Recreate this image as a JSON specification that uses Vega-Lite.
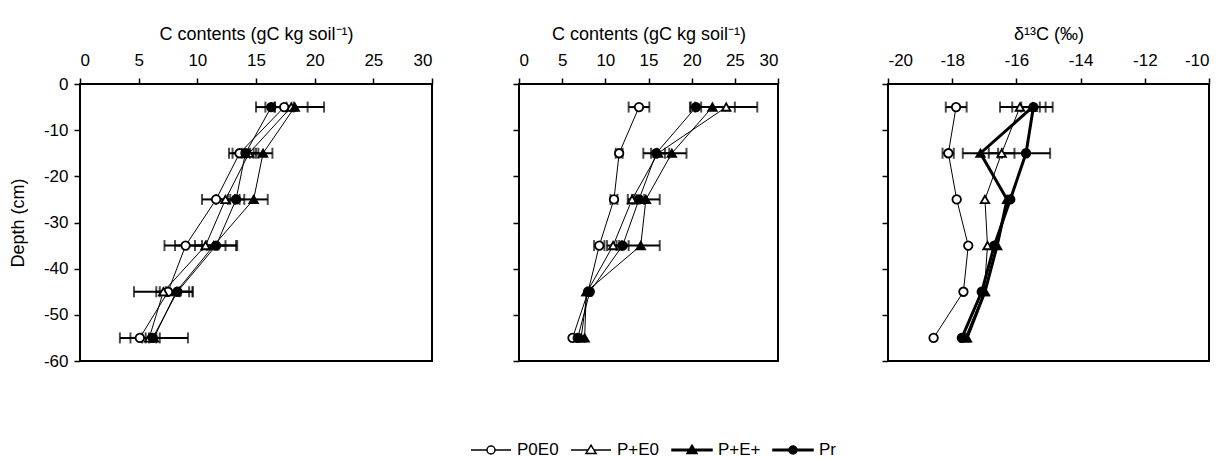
{
  "$schema": "https://vega.github.io/schema/vega-lite/v6.json",
  "padding": {"left": 8, "top": 24, "right": 5, "bottom": 5},
  "spacing": 10,
  "config": {
    "font": "Liberation Sans",
    "view": {"stroke": "black", "strokeWidth": 2},
    "axis": {"domain": false, "grid": false, "tickColor": "black", "tickSize": 6, "tickWidth": 1.5, "labelColor": "black", "titleColor": "black", "labelFontSize": 17, "titleFontSize": 18, "titleFontWeight": "normal", "labelFont": "Liberation Sans", "titleFont": "Liberation Sans"}
  },
  "datasets": {
    "d": [
      {"p": "a", "s": "P0E0", "depth": -5, "v": 17.4, "lo": 16.6, "hi": 18.2},
      {"p": "a", "s": "P+E0", "depth": -5, "v": 18.0, "lo": 16.6, "hi": 19.4},
      {"p": "a", "s": "P+E+", "depth": -5, "v": 18.3, "lo": 15.8, "hi": 20.8},
      {"p": "a", "s": "Pr", "depth": -5, "v": 16.3, "lo": 15.0, "hi": 17.6},
      {"p": "a", "s": "P0E0", "depth": -15, "v": 13.6, "lo": 12.7, "hi": 14.5},
      {"p": "a", "s": "P+E0", "depth": -15, "v": 14.4, "lo": 13.8, "hi": 15.0},
      {"p": "a", "s": "P+E+", "depth": -15, "v": 15.6, "lo": 14.8, "hi": 16.4},
      {"p": "a", "s": "Pr", "depth": -15, "v": 14.1, "lo": 13.0, "hi": 15.2},
      {"p": "a", "s": "P0E0", "depth": -25, "v": 11.6, "lo": 10.4, "hi": 12.8},
      {"p": "a", "s": "P+E0", "depth": -25, "v": 12.4, "lo": 11.6, "hi": 13.2},
      {"p": "a", "s": "P+E+", "depth": -25, "v": 14.8, "lo": 13.6, "hi": 16.0},
      {"p": "a", "s": "Pr", "depth": -25, "v": 13.3, "lo": 12.6, "hi": 14.0},
      {"p": "a", "s": "P0E0", "depth": -35, "v": 9.0, "lo": 7.2, "hi": 10.8},
      {"p": "a", "s": "P+E0", "depth": -35, "v": 10.7, "lo": 8.1, "hi": 13.3},
      {"p": "a", "s": "P+E+", "depth": -35, "v": 11.4, "lo": 10.4, "hi": 12.4},
      {"p": "a", "s": "Pr", "depth": -35, "v": 11.6, "lo": 9.8, "hi": 13.4},
      {"p": "a", "s": "P0E0", "depth": -45, "v": 7.5, "lo": 6.5, "hi": 8.5},
      {"p": "a", "s": "P+E0", "depth": -45, "v": 7.1, "lo": 4.6, "hi": 9.6},
      {"p": "a", "s": "P+E+", "depth": -45, "v": 8.2, "lo": 6.8, "hi": 9.6},
      {"p": "a", "s": "Pr", "depth": -45, "v": 8.3, "lo": 7.3, "hi": 9.3},
      {"p": "a", "s": "P0E0", "depth": -55, "v": 5.1, "lo": 4.3, "hi": 5.9},
      {"p": "a", "s": "P+E0", "depth": -55, "v": 5.9, "lo": 5.3, "hi": 6.5},
      {"p": "a", "s": "P+E+", "depth": -55, "v": 6.3, "lo": 3.4, "hi": 9.2},
      {"p": "a", "s": "Pr", "depth": -55, "v": 6.2, "lo": 5.6, "hi": 6.8},

      {"p": "b", "s": "P0E0", "depth": -5, "v": 13.9, "lo": 12.7, "hi": 15.1},
      {"p": "b", "s": "P+E0", "depth": -5, "v": 24.0, "lo": 20.4, "hi": 27.6},
      {"p": "b", "s": "P+E+", "depth": -5, "v": 22.4, "lo": 19.8, "hi": 25.0},
      {"p": "b", "s": "Pr", "depth": -5, "v": 20.5, "lo": 19.9, "hi": 21.1},
      {"p": "b", "s": "P0E0", "depth": -15, "v": 11.6, "lo": 11.2, "hi": 12.0},
      {"p": "b", "s": "P+E0", "depth": -15, "v": 16.1, "lo": 15.3, "hi": 16.9},
      {"p": "b", "s": "P+E+", "depth": -15, "v": 17.7, "lo": 16.0, "hi": 19.4},
      {"p": "b", "s": "Pr", "depth": -15, "v": 15.9, "lo": 14.4, "hi": 17.4},
      {"p": "b", "s": "P0E0", "depth": -25, "v": 11.0, "lo": 10.6, "hi": 11.4},
      {"p": "b", "s": "P+E0", "depth": -25, "v": 13.1, "lo": 12.6, "hi": 13.6},
      {"p": "b", "s": "P+E+", "depth": -25, "v": 14.7, "lo": 13.1, "hi": 16.3},
      {"p": "b", "s": "Pr", "depth": -25, "v": 13.9, "lo": 13.3, "hi": 14.5},
      {"p": "b", "s": "P0E0", "depth": -35, "v": 9.3, "lo": 8.7, "hi": 9.9},
      {"p": "b", "s": "P+E0", "depth": -35, "v": 10.9, "lo": 10.2, "hi": 11.6},
      {"p": "b", "s": "P+E+", "depth": -35, "v": 14.1, "lo": 11.9, "hi": 16.3},
      {"p": "b", "s": "Pr", "depth": -35, "v": 12.0, "lo": 11.3, "hi": 12.7},
      {"p": "b", "s": "P0E0", "depth": -45, "v": 8.0, "lo": null, "hi": null},
      {"p": "b", "s": "P+E0", "depth": -45, "v": 7.9, "lo": null, "hi": null},
      {"p": "b", "s": "P+E+", "depth": -45, "v": 7.8, "lo": null, "hi": null},
      {"p": "b", "s": "Pr", "depth": -45, "v": 8.2, "lo": null, "hi": null},
      {"p": "b", "s": "P0E0", "depth": -55, "v": 6.2, "lo": null, "hi": null},
      {"p": "b", "s": "P+E0", "depth": -55, "v": 7.2, "lo": null, "hi": null},
      {"p": "b", "s": "P+E+", "depth": -55, "v": 7.6, "lo": null, "hi": null},
      {"p": "b", "s": "Pr", "depth": -55, "v": 6.8, "lo": null, "hi": null},

      {"p": "c", "s": "P0E0", "depth": -5, "v": -17.88, "lo": -18.2, "hi": -17.55},
      {"p": "c", "s": "P+E0", "depth": -5, "v": -15.89, "lo": -16.51, "hi": -15.27},
      {"p": "c", "s": "P+E+", "depth": -5, "v": -15.5, "lo": -16.13, "hi": -14.87},
      {"p": "c", "s": "Pr", "depth": -5, "v": -15.47, "lo": -15.85, "hi": -15.09},
      {"p": "c", "s": "P0E0", "depth": -15, "v": -18.12, "lo": -18.3, "hi": -17.95},
      {"p": "c", "s": "P+E0", "depth": -15, "v": -16.46, "lo": -16.86, "hi": -16.06},
      {"p": "c", "s": "P+E+", "depth": -15, "v": -17.12, "lo": -17.67, "hi": -16.57},
      {"p": "c", "s": "Pr", "depth": -15, "v": -15.7, "lo": -16.45, "hi": -14.95},
      {"p": "c", "s": "P0E0", "depth": -25, "v": -17.86, "lo": null, "hi": null},
      {"p": "c", "s": "P+E0", "depth": -25, "v": -16.98, "lo": null, "hi": null},
      {"p": "c", "s": "P+E+", "depth": -25, "v": -16.29, "lo": null, "hi": null},
      {"p": "c", "s": "Pr", "depth": -25, "v": -16.19, "lo": null, "hi": null},
      {"p": "c", "s": "P0E0", "depth": -35, "v": -17.5, "lo": null, "hi": null},
      {"p": "c", "s": "P+E0", "depth": -35, "v": -16.9, "lo": null, "hi": null},
      {"p": "c", "s": "P+E+", "depth": -35, "v": -16.6, "lo": null, "hi": null},
      {"p": "c", "s": "Pr", "depth": -35, "v": -16.69, "lo": null, "hi": null},
      {"p": "c", "s": "P0E0", "depth": -45, "v": -17.65, "lo": null, "hi": null},
      {"p": "c", "s": "P+E0", "depth": -45, "v": -17.0, "lo": null, "hi": null},
      {"p": "c", "s": "P+E+", "depth": -45, "v": -16.98, "lo": null, "hi": null},
      {"p": "c", "s": "Pr", "depth": -45, "v": -17.08, "lo": null, "hi": null},
      {"p": "c", "s": "P0E0", "depth": -55, "v": -18.58, "lo": null, "hi": null},
      {"p": "c", "s": "P+E0", "depth": -55, "v": -17.6, "lo": null, "hi": null},
      {"p": "c", "s": "P+E+", "depth": -55, "v": -17.54, "lo": null, "hi": null},
      {"p": "c", "s": "Pr", "depth": -55, "v": -17.7, "lo": null, "hi": null}
    ]
  },
  "hconcat": [
    {
      "width": 352, "height": 277,
      "data": {"name": "d"},
      "transform": [{"filter": "datum.p == 'a'"}],
      "encoding": {
        "y": {"field": "depth", "type": "quantitative", "scale": {"domain": [-60, 0], "nice": false}, "axis": {"title": "Depth (cm)", "values": [0, -10, -20, -30, -40, -50, -60], "labelExpr": "datum.value + ''", "labelPadding": 6, "titlePadding": 16}}
      },
      "layer": [
        {
          "mark": {"type": "line", "color": "black", "strokeWidth": 1},
          "encoding": {
            "x": {"field": "v", "type": "quantitative", "scale": {"domain": [0, 30], "nice": false}, "axis": {"orient": "top", "title": "C contents (gC kg soil⁻¹)", "values": [0, 5, 10, 15, 20, 25, 30], "labelPadding": 9, "titlePadding": 8}},
            "detail": {"field": "s"},
            "order": {"field": "depth", "sort": "descending"}
          }
        },
        {
          "mark": {"type": "rule", "color": "black", "strokeWidth": 2},
          "encoding": {
            "x": {"field": "lo", "type": "quantitative", "scale": {"domain": [0, 30], "nice": false}, "axis": {"orient": "top", "title": "C contents (gC kg soil⁻¹)", "values": [0, 5, 10, 15, 20, 25, 30], "labelPadding": 9, "titlePadding": 8}},
            "x2": {"field": "hi"}
          }
        },
        {
          "mark": {"type": "tick", "orient": "vertical", "color": "black", "size": 11, "thickness": 2},
          "encoding": {
            "x": {"field": "lo", "type": "quantitative", "scale": {"domain": [0, 30], "nice": false}, "axis": {"orient": "top", "title": "C contents (gC kg soil⁻¹)", "values": [0, 5, 10, 15, 20, 25, 30], "labelPadding": 9, "titlePadding": 8}}
          }
        },
        {
          "mark": {"type": "tick", "orient": "vertical", "color": "black", "size": 11, "thickness": 2},
          "encoding": {
            "x": {"field": "hi", "type": "quantitative", "scale": {"domain": [0, 30], "nice": false}, "axis": {"orient": "top", "title": "C contents (gC kg soil⁻¹)", "values": [0, 5, 10, 15, 20, 25, 30], "labelPadding": 9, "titlePadding": 8}}
          }
        },
        {
          "mark": {"type": "point", "filled": true, "stroke": "black", "strokeWidth": 1.8, "size": 72, "opacity": 1},
          "encoding": {
            "x": {"field": "v", "type": "quantitative", "scale": {"domain": [0, 30], "nice": false}, "axis": {"orient": "top", "title": "C contents (gC kg soil⁻¹)", "values": [0, 5, 10, 15, 20, 25, 30], "labelPadding": 9, "titlePadding": 8}},
            "shape": {"condition": {"test": "datum.s == 'P0E0' || datum.s == 'Pr'", "value": "circle"}, "value": "triangle-up"},
            "fill": {"condition": {"test": "datum.s == 'P+E+' || datum.s == 'Pr'", "value": "black"}, "value": "white"}
          }
        },
        {
          "data": {"values": [{"label": "a"}]},
          "mark": {"type": "text", "fontWeight": "bold", "fontSize": 21, "color": "black", "baseline": "middle", "align": "center"},
          "encoding": {
            "x": {"datum": 27.4, "type": "quantitative", "scale": {"domain": [0, 30], "nice": false}, "axis": {"orient": "top", "title": "C contents (gC kg soil⁻¹)", "values": [0, 5, 10, 15, 20, 25, 30], "labelPadding": 9, "titlePadding": 8}},
            "y": {"datum": -54, "type": "quantitative", "scale": {"domain": [-60, 0], "nice": false}, "axis": {"title": "Depth (cm)", "values": [0, -10, -20, -30, -40, -50, -60], "labelExpr": "datum.value + ''", "labelPadding": 6, "titlePadding": 16}},
            "text": {"field": "label"}
          }
        }
      ]
    },
    {
      "width": 259, "height": 277,
      "data": {"name": "d"},
      "transform": [{"filter": "datum.p == 'b'"}],
      "encoding": {
        "y": {"field": "depth", "type": "quantitative", "scale": {"domain": [-60, 0], "nice": false}, "axis": {"title": null, "labels": false, "values": [0, -10, -20, -30, -40, -50, -60], "minExtent": 74, "maxExtent": 74}}
      },
      "layer": [
        {
          "mark": {"type": "line", "color": "black", "strokeWidth": 1},
          "encoding": {
            "x": {"field": "v", "type": "quantitative", "scale": {"domain": [0, 30], "nice": false}, "axis": {"orient": "top", "title": "C contents (gC kg soil⁻¹)", "values": [0, 5, 10, 15, 20, 25, 30], "labelPadding": 9, "titlePadding": 8}},
            "detail": {"field": "s"},
            "order": {"field": "depth", "sort": "descending"}
          }
        },
        {
          "mark": {"type": "rule", "color": "black", "strokeWidth": 2},
          "encoding": {
            "x": {"field": "lo", "type": "quantitative", "scale": {"domain": [0, 30], "nice": false}, "axis": {"orient": "top", "title": "C contents (gC kg soil⁻¹)", "values": [0, 5, 10, 15, 20, 25, 30], "labelPadding": 9, "titlePadding": 8}},
            "x2": {"field": "hi"}
          }
        },
        {
          "mark": {"type": "tick", "orient": "vertical", "color": "black", "size": 11, "thickness": 2},
          "encoding": {
            "x": {"field": "lo", "type": "quantitative", "scale": {"domain": [0, 30], "nice": false}, "axis": {"orient": "top", "title": "C contents (gC kg soil⁻¹)", "values": [0, 5, 10, 15, 20, 25, 30], "labelPadding": 9, "titlePadding": 8}}
          }
        },
        {
          "mark": {"type": "tick", "orient": "vertical", "color": "black", "size": 11, "thickness": 2},
          "encoding": {
            "x": {"field": "hi", "type": "quantitative", "scale": {"domain": [0, 30], "nice": false}, "axis": {"orient": "top", "title": "C contents (gC kg soil⁻¹)", "values": [0, 5, 10, 15, 20, 25, 30], "labelPadding": 9, "titlePadding": 8}}
          }
        },
        {
          "mark": {"type": "point", "filled": true, "stroke": "black", "strokeWidth": 1.8, "size": 72, "opacity": 1},
          "encoding": {
            "x": {"field": "v", "type": "quantitative", "scale": {"domain": [0, 30], "nice": false}, "axis": {"orient": "top", "title": "C contents (gC kg soil⁻¹)", "values": [0, 5, 10, 15, 20, 25, 30], "labelPadding": 9, "titlePadding": 8}},
            "shape": {"condition": {"test": "datum.s == 'P0E0' || datum.s == 'Pr'", "value": "circle"}, "value": "triangle-up"},
            "fill": {"condition": {"test": "datum.s == 'P+E+' || datum.s == 'Pr'", "value": "black"}, "value": "white"}
          }
        },
        {
          "mark": {"type": "point", "filled": true, "stroke": "black", "strokeWidth": 1.5, "size": 1600, "opacity": 0},
          "encoding": {
            "x": {"field": "v", "type": "quantitative", "scale": {"domain": [0, 30], "nice": false}, "axis": {"orient": "top", "title": "C contents (gC kg soil⁻¹)", "values": [0, 5, 10, 15, 20, 25, 30], "labelPadding": 9, "titlePadding": 8}},
            "shape": {"field": "s", "type": "nominal", "scale": {"domain": ["P0E0", "P+E0", "P+E+", "Pr"], "range": [
              "M-1,0H-0.2M0.2,0H1M0.2,0A0.2,0.2,0,1,1,-0.2,0A0.2,0.2,0,1,1,0.2,0Z",
              "M-1,0H-0.146M0.146,0H1M0,-0.24L0.25,0.17L-0.25,0.17Z",
              "M-1,-0.035H1V0.035H-1ZM0,-0.24L0.25,0.17L-0.25,0.17Z",
              "M-1,-0.035H1V0.035H-1ZM0.2,0A0.2,0.2,0,1,1,-0.2,0A0.2,0.2,0,1,1,0.2,0Z"
            ]}, "legend": {"title": null, "orient": "none", "legendX": 390, "legendY": 345, "direction": "horizontal", "symbolSize": 1600, "symbolStrokeWidth": 1.5, "symbolOpacity": 1, "labelFontSize": 17, "labelColor": "black", "labelOffset": 5, "columnPadding": 9, "padding": 0}},
            "fill": {"field": "s", "type": "nominal", "scale": {"domain": ["P0E0", "P+E0", "P+E+", "Pr"], "range": ["white", "white", "black", "black"]}, "legend": {"title": null, "orient": "none", "legendX": 390, "legendY": 345, "direction": "horizontal", "symbolSize": 1600, "symbolStrokeWidth": 1.5, "symbolOpacity": 1, "labelFontSize": 17, "labelColor": "black", "labelOffset": 5, "columnPadding": 9, "padding": 0}},
            "stroke": {"field": "s", "type": "nominal", "scale": {"domain": ["P0E0", "P+E0", "P+E+", "Pr"], "range": ["black", "black", "black", "black"]}, "legend": {"title": null, "orient": "none", "legendX": 390, "legendY": 345, "direction": "horizontal", "symbolSize": 1600, "symbolStrokeWidth": 1.5, "symbolOpacity": 1, "labelFontSize": 17, "labelColor": "black", "labelOffset": 5, "columnPadding": 9, "padding": 0}}
          }
        },
        {
          "data": {"values": [{"label": "b"}]},
          "mark": {"type": "text", "fontWeight": "bold", "fontSize": 21, "color": "black", "baseline": "middle", "align": "center"},
          "encoding": {
            "x": {"datum": 25.6, "type": "quantitative", "scale": {"domain": [0, 30], "nice": false}, "axis": {"orient": "top", "title": "C contents (gC kg soil⁻¹)", "values": [0, 5, 10, 15, 20, 25, 30], "labelPadding": 9, "titlePadding": 8}},
            "y": {"datum": -54, "type": "quantitative", "scale": {"domain": [-60, 0], "nice": false}, "axis": {"title": null, "labels": false, "values": [0, -10, -20, -30, -40, -50, -60], "minExtent": 74, "maxExtent": 74}},
            "text": {"field": "label"}
          }
        }
      ]
    },
    {
      "width": 321, "height": 277,
      "data": {"name": "d"},
      "transform": [{"filter": "datum.p == 'c'"}],
      "encoding": {
        "y": {"field": "depth", "type": "quantitative", "scale": {"domain": [-60, 0], "nice": false}, "axis": {"title": null, "labels": false, "values": [0, -10, -20, -30, -40, -50, -60], "minExtent": 97, "maxExtent": 97}}
      },
      "layer": [
        {
          "mark": {"type": "line", "color": "black"},
          "encoding": {
            "x": {"field": "v", "type": "quantitative", "scale": {"domain": [-20, -10], "nice": false}, "axis": {"orient": "top", "title": "δ¹³C (‰)", "values": [-20, -18, -16, -14, -12, -10], "labelExpr": "datum.value + ''", "labelPadding": 9, "titlePadding": 8}},
            "detail": {"field": "s"},
            "order": {"field": "depth", "sort": "descending"},
            "strokeWidth": {"condition": {"test": "datum.s == 'P+E+' || datum.s == 'Pr'", "value": 3}, "value": 1}
          }
        },
        {
          "mark": {"type": "rule", "color": "black", "strokeWidth": 2},
          "encoding": {
            "x": {"field": "lo", "type": "quantitative", "scale": {"domain": [-20, -10], "nice": false}, "axis": {"orient": "top", "title": "δ¹³C (‰)", "values": [-20, -18, -16, -14, -12, -10], "labelExpr": "datum.value + ''", "labelPadding": 9, "titlePadding": 8}},
            "x2": {"field": "hi"}
          }
        },
        {
          "mark": {"type": "tick", "orient": "vertical", "color": "black", "size": 11, "thickness": 2},
          "encoding": {
            "x": {"field": "lo", "type": "quantitative", "scale": {"domain": [-20, -10], "nice": false}, "axis": {"orient": "top", "title": "δ¹³C (‰)", "values": [-20, -18, -16, -14, -12, -10], "labelExpr": "datum.value + ''", "labelPadding": 9, "titlePadding": 8}}
          }
        },
        {
          "mark": {"type": "tick", "orient": "vertical", "color": "black", "size": 11, "thickness": 2},
          "encoding": {
            "x": {"field": "hi", "type": "quantitative", "scale": {"domain": [-20, -10], "nice": false}, "axis": {"orient": "top", "title": "δ¹³C (‰)", "values": [-20, -18, -16, -14, -12, -10], "labelExpr": "datum.value + ''", "labelPadding": 9, "titlePadding": 8}}
          }
        },
        {
          "mark": {"type": "point", "filled": true, "stroke": "black", "strokeWidth": 1.8, "size": 72, "opacity": 1},
          "encoding": {
            "x": {"field": "v", "type": "quantitative", "scale": {"domain": [-20, -10], "nice": false}, "axis": {"orient": "top", "title": "δ¹³C (‰)", "values": [-20, -18, -16, -14, -12, -10], "labelExpr": "datum.value + ''", "labelPadding": 9, "titlePadding": 8}},
            "shape": {"condition": {"test": "datum.s == 'P0E0' || datum.s == 'Pr'", "value": "circle"}, "value": "triangle-up"},
            "fill": {"condition": {"test": "datum.s == 'P+E+' || datum.s == 'Pr'", "value": "black"}, "value": "white"}
          }
        },
        {
          "data": {"values": [{"label": "c"}]},
          "mark": {"type": "text", "fontWeight": "bold", "fontSize": 21, "color": "black", "baseline": "middle", "align": "center"},
          "encoding": {
            "x": {"datum": -11.1, "type": "quantitative", "scale": {"domain": [-20, -10], "nice": false}, "axis": {"orient": "top", "title": "δ¹³C (‰)", "values": [-20, -18, -16, -14, -12, -10], "labelExpr": "datum.value + ''", "labelPadding": 9, "titlePadding": 8}},
            "y": {"datum": -54, "type": "quantitative", "scale": {"domain": [-60, 0], "nice": false}, "axis": {"title": null, "labels": false, "values": [0, -10, -20, -30, -40, -50, -60], "minExtent": 97, "maxExtent": 97}},
            "text": {"field": "label"}
          }
        }
      ]
    }
  ]
}
